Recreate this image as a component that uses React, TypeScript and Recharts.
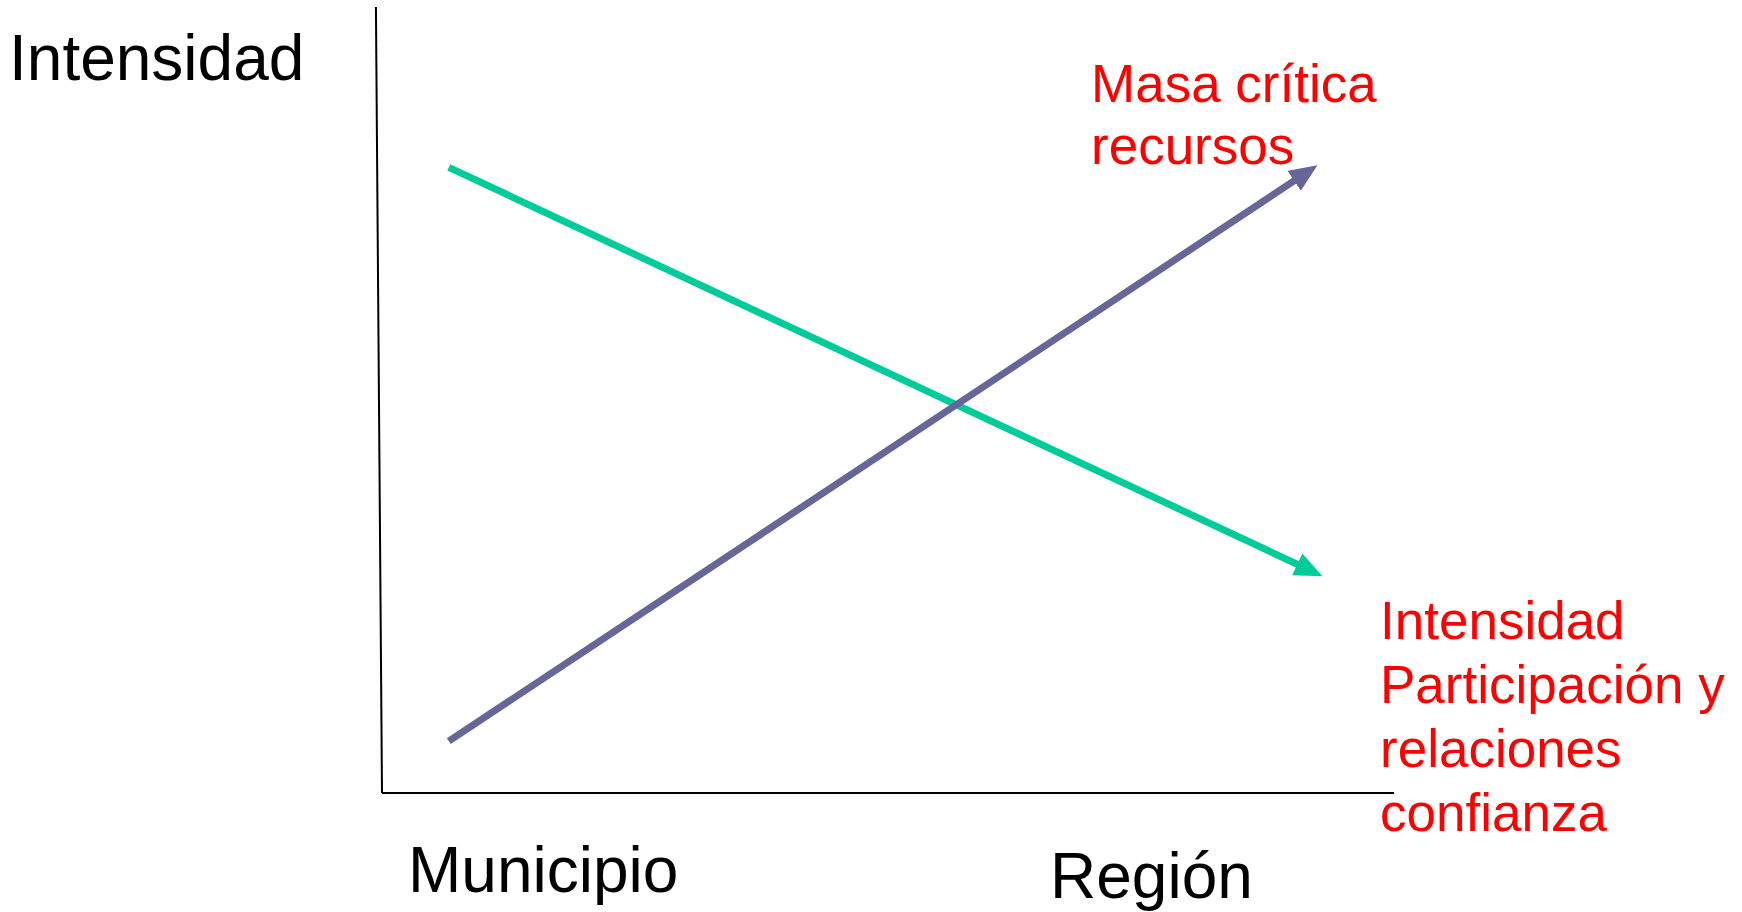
import { LineChart, Line, XAxis, YAxis, ReferenceLine } from "recharts";

// schematic values, 0..100 on both axes
const participacion = [
  { x: 6.6, y: 79.6 },
  { x: 91.6, y: 28.4 },
];
const masaCritica = [
  { x: 6.6, y: 6.6 },
  { x: 91.2, y: 78.8 },
];

const yTitle = "Intensidad";
const xLabels = ["Municipio", "Región"];
const masaLines = ["Masa crítica", "recursos"];
const participacionLines = ["Intensidad", "Participación y", "relaciones", "confianza"];

const GREEN = "#00cc99";
const PURPLE = "#666699";
const RED = "#ff0000";
const FONT = "'Liberation Sans', Arial, sans-serif";

const W = 1742;
const H = 912;

export default function App() {
  return (
    <div style={{ position: "absolute", left: 0, top: 0, width: W, height: H, background: "#fff" }}>
      <LineChart width={W} height={H} margin={{ top: 7, right: 348, bottom: 119, left: 382 }}>
        <defs>
          <marker id="arrow-green" viewBox="0 0 28 24" refX={13} refY={12} markerWidth={28} markerHeight={24} markerUnits="userSpaceOnUse" orient="auto">
            <path d="M0,0 L28,12 L0,24 z" fill={GREEN} />
          </marker>
          <marker id="arrow-purple" viewBox="0 0 28 24" refX={13} refY={12} markerWidth={28} markerHeight={24} markerUnits="userSpaceOnUse" orient="auto">
            <path d="M0,0 L28,12 L0,24 z" fill={PURPLE} />
          </marker>
        </defs>
        <XAxis type="number" dataKey="x" domain={[0, 100]} hide />
        <YAxis type="number" domain={[0, 100]} hide />
        <ReferenceLine
          segment={[{ x: -0.6, y: 100 }, { x: 0, y: 0 }]}
          stroke="#000"
          strokeWidth={2}
          ifOverflow="visible"
        />
        <ReferenceLine
          segment={[{ x: 0, y: 0 }, { x: 100, y: 0 }]}
          stroke="#000"
          strokeWidth={2}
          ifOverflow="visible"
        />
        <Line
          data={participacion}
          dataKey="y"
          type="linear"
          stroke={GREEN}
          strokeWidth={7}
          dot={false}
          activeDot={false}
          markerEnd="url(#arrow-green)"
          isAnimationActive={false}
        />
        <Line
          data={masaCritica}
          dataKey="y"
          type="linear"
          stroke={PURPLE}
          strokeWidth={7}
          dot={false}
          activeDot={false}
          markerEnd="url(#arrow-purple)"
          isAnimationActive={false}
        />
        <text x={9} y={80} fontSize={64} fontFamily={FONT} fill="#000">
          {yTitle}
        </text>
        <text x={408} y={892} fontSize={64} fontFamily={FONT} fill="#000">
          {xLabels[0]}
        </text>
        <text x={1050} y={898} fontSize={64} fontFamily={FONT} fill="#000">
          {xLabels[1]}
        </text>
        {masaLines.map((t, i) => (
          <text key={t} x={1091} y={102 + i * 62} fontSize={53} fontFamily={FONT} fill={RED}>
            {t}
          </text>
        ))}
        {participacionLines.map((t, i) => (
          <text key={t} x={1380} y={639 + i * 64} fontSize={53} fontFamily={FONT} fill={RED}>
            {t}
          </text>
        ))}
      </LineChart>
    </div>
  );
}
